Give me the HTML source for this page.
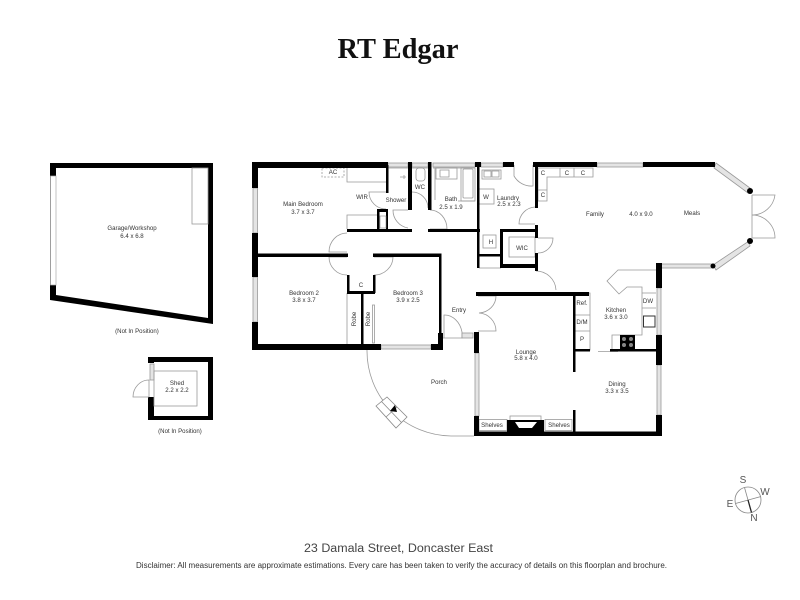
<!DOCTYPE html>
<html><head><meta charset="utf-8"><style>
html,body{margin:0;padding:0;background:#fff}
svg{display:block}
text{font-family:"Liberation Sans",sans-serif;fill:#333;text-anchor:middle;font-size:6.1px}
.g{fill:none;stroke:#999;stroke-width:.8}
.w{fill:#fff;stroke:#888;stroke-width:.8}
.win{fill:#e4e4e4;stroke:#999;stroke-width:.8}
</style></head><body>
<svg width="800" height="600" viewBox="0 0 800 600" xmlns="http://www.w3.org/2000/svg">
<text x="398" y="58" textLength="121" lengthAdjust="spacingAndGlyphs" style="font-family:'Liberation Serif',serif;font-weight:bold;font-size:29px;fill:#111">RT Edgar</text>

<!-- Garage -->
<path fill-rule="evenodd" d="M50 163H213V324L50 300ZM56 168V295L208 318V168Z" fill="#000"/>
<rect x="50.5" y="176" width="5.5" height="109" fill="#fff" stroke="#aaa" stroke-width=".7"/>
<rect x="192" y="168" width="16" height="56" class="g"/>
<text x="132" y="230">Garage/Workshop</text><text x="132" y="238">6.4 x 6.8</text>
<text x="137" y="333">(Not In Position)</text>

<!-- Shed -->
<path fill-rule="evenodd" d="M148 357H213V420H148ZM154 362V416H208V362Z" fill="#000"/>
<rect x="148" y="363" width="6.5" height="34" fill="#fff"/>
<rect x="150" y="364" width="4" height="16" class="win"/>
<rect x="154" y="371" width="43" height="35" class="g"/>
<path d="M149 397H133A16 17 0 0 1 149 380V397" class="g"/>
<text x="177" y="385">Shed</text><text x="177" y="392">2.2 x 2.2</text>
<text x="180" y="433">(Not In Position)</text>

<!-- Fixtures and doors -->
<g class="g">
<rect x="322" y="168" width="22" height="9" stroke-dasharray="2 1.5"/>
<path d="M347 168V182H386"/><path d="M347 229V215H377"/>
<path d="M386 192H369A17 17 0 0 0 386 209"/>
<path d="M408 210H393A18 18 0 0 0 408 228"/>
<path d="M412 192A16 16 0 0 1 428 208"/>
<path d="M430 210A17 19 0 0 1 447 229H430"/>
<path d="M347 233A18 19 0 0 0 329 252H347"/>
<path d="M329 257H347M329 257A18 18 0 0 0 347 275"/>
<path d="M374 257H393A19 18 0 0 1 374 275"/>
<path d="M347 293V345"/>
<rect x="372.5" y="305" width="2" height="38"/>
<path d="M388 168H408M412 168H428M433 168H475M435 168V200"/>
<path d="M400 177H406M404 175V179"/>
<rect x="416" y="168" width="9" height="13" rx="3"/>
<rect x="436" y="168" width="21" height="11"/>
<rect x="440" y="170" width="9" height="7"/>
<rect x="461" y="168" width="14" height="33"/>
<rect x="463" y="169" width="10" height="29" rx="1"/>
<path d="M458 201H475"/>
<rect x="479" y="189" width="15" height="15"/>
<rect x="483" y="235" width="13" height="13"/>
<path d="M479 268H501"/>
<rect x="482" y="170" width="19" height="9"/>
<rect x="484" y="171" width="7" height="6"/><rect x="492" y="171" width="7" height="6"/>
<path d="M514 165V176A20 20 0 0 0 533 186V165"/>
<path d="M538 168H593V177H547V201H538ZM560 168V177M574 168V177M538 190H547"/>
<path d="M535 207A17 17 0 0 0 519 224H535"/>
<rect x="509" y="237" width="26" height="20"/>
<path d="M538 238H553A15 15 0 0 1 538 253"/>
<path d="M536 271A20 20 0 0 1 556 290"/>
<path d="M656 270H618L607 281L619 294L627 287H642V335H612V349"/>
<path d="M642 293H656M642 308H656"/>
<path d="M598 351.5H618"/>
<path d="M575 293H590V350H575M575 315H590M575 331H590"/>
<path d="M444 338V315A18 22 0 0 1 462 332V338H441"/>
<path d="M367 350A85 85 0 0 0 451 436H474"/>
<path d="M478 296H496A18 17 0 0 1 479 313A18 18 0 0 1 496 331H478"/>
<path d="M752 195V238M752 195H775A23 23 0 0 1 752 215A23 23 0 0 1 775 238H752"/>
<rect x="479" y="419.5" width="28" height="11" />
<rect x="545" y="419.5" width="27" height="11"/>
<rect x="510" y="416" width="31" height="5"/>
</g>
<path class="w" d="M376 406L387 397L407 417L396 428ZM381.500 401.500L401.500 422.500M386 417L397 407"/>
<path d="M390 411L395 405L397 412Z" fill="#000"/>

<!-- Windows -->
<g class="win">
<rect x="253" y="188" width="4.500" height="45"/><rect x="253" y="277" width="4.500" height="45"/>
<rect x="381" y="345" width="50" height="4"/>
<rect x="388" y="163" width="20" height="4"/><rect x="412" y="163" width="16" height="4"/><rect x="433" y="163" width="42" height="4"/><rect x="481" y="163" width="22" height="4"/>
<rect x="597" y="163" width="46" height="4"/>
<polygon points="716,163 750,188 748,193 714,168"/>
<polygon points="749,241 750,246 716,270 713,265"/>
<rect x="660" y="264" width="53" height="4"/>
<rect x="657" y="288" width="4" height="47"/><rect x="657" y="365" width="4" height="50"/>
<rect x="475" y="353" width="4" height="63"/>
<rect x="462" y="333" width="11" height="5"/>
</g>

<!-- Walls -->
<g fill="#000">
<rect x="252" y="162" width="136" height="6"/>
<rect x="252" y="162" width="6" height="26"/><rect x="252" y="233" width="6" height="44"/><rect x="252" y="322" width="6" height="28"/>
<rect x="252" y="344" width="129" height="6"/><rect x="431" y="344" width="12" height="6"/><rect x="438" y="333" width="5" height="17"/>
<rect x="258" y="253.500" width="90" height="3.500"/>
<rect x="373" y="253.500" width="68" height="3.500"/>
<rect x="439" y="253.500" width="2.500" height="82"/>
<rect x="347" y="229" width="65" height="3"/><rect x="428" y="229" width="52" height="3"/>
<rect x="386" y="165" width="2.500" height="28"/>
<rect x="377" y="209" width="11" height="3"/><rect x="377" y="209" width="2.500" height="20"/><rect x="386" y="209" width="2" height="20"/>
<rect x="408" y="162" width="4" height="48"/><rect x="428" y="162" width="3.500" height="48"/>
<rect x="347" y="275" width="2.500" height="18"/><rect x="373" y="275" width="2.500" height="18"/><rect x="347" y="291" width="28" height="3"/>
<rect x="361" y="293" width="2.500" height="52"/>
<rect x="475" y="162" width="6" height="5"/><rect x="477" y="165" width="2.500" height="103"/>
<rect x="503" y="162" width="11" height="5"/><rect x="533" y="162" width="64" height="5"/><rect x="643" y="162" width="72" height="5"/>
<rect x="535" y="165" width="3" height="43"/><rect x="535" y="225" width="3" height="13"/><rect x="535" y="253" width="3" height="18"/>
<rect x="500" y="229" width="38" height="3"/><rect x="500" y="229" width="3" height="39"/><rect x="501" y="264" width="37" height="4"/><rect x="478" y="254" width="23" height="2.500"/>
<rect x="476" y="292" width="113" height="4"/><rect x="476" y="292" width="2.500" height="4"/>
<rect x="474" y="332" width="5" height="21"/><rect x="474" y="416" width="5" height="20"/>
<rect x="474" y="431.500" width="188" height="4.500"/>
<rect x="573" y="292" width="2.500" height="80"/><rect x="573" y="410" width="2.500" height="22"/>
<rect x="575" y="349" width="15" height="2.500"/><rect x="610" y="349" width="48" height="2.500"/>
<rect x="656" y="263" width="6" height="25"/><rect x="656" y="335" width="6" height="30"/><rect x="656" y="415" width="6" height="21"/>
<rect x="507" y="420" width="37" height="16"/>
<circle cx="750" cy="191" r="3"/><circle cx="750" cy="241" r="3"/><circle cx="713" cy="266" r="2.500"/>
<rect x="620" y="335" width="15" height="14"/>
</g>
<path d="M515 422H537L532 428H519Z" fill="#fff"/>
<g fill="#888"><circle cx="624" cy="339" r="2"/><circle cx="631" cy="339" r="2"/><circle cx="624" cy="345" r="2"/><circle cx="631" cy="345" r="2"/></g>
<rect x="643.500" y="316" width="11.500" height="11" fill="#fff" stroke="#333" stroke-width="1"/>
<rect x="380" y="216" width="6" height="12" fill="#fff" stroke="#888" stroke-width=".6"/>

<!-- Labels -->
<text x="303" y="206">Main Bedroom</text><text x="303" y="214">3.7 x 3.7</text>
<text x="333" y="174">AC</text><text x="362" y="199">WIR</text><text x="396" y="202">Shower</text><text x="420" y="189">WC</text>
<text x="451" y="201">Bath</text><text x="451" y="209">2.5 x 1.9</text>
<text x="486" y="199">W</text><text x="508" y="200">Laundry</text><text x="509" y="206">2.5 x 2.3</text>
<text x="491" y="244">H</text><text x="522" y="250">WIC</text>
<text x="543" y="175">C</text><text x="567" y="175">C</text><text x="583" y="175">C</text><text x="543" y="197">C</text>
<text x="595" y="216">Family</text><text x="641" y="216">4.0 x 9.0</text><text x="692" y="215">Meals</text>
<text x="304" y="295">Bedroom 2</text><text x="304" y="302">3.8 x 3.7</text>
<text x="361" y="287">C</text>
<text x="408" y="295">Bedroom 3</text><text x="408" y="302">3.9 x 2.5</text>
<text transform="translate(356 319) rotate(-90)">Robe</text><text transform="translate(370 319) rotate(-90)">Robe</text>
<text x="459" y="312">Entry</text>
<text x="582" y="305">Ref.</text><text x="582" y="324">D/M</text><text x="582" y="341">P</text><text x="648" y="303">DW</text>
<text x="616" y="312">Kitchen</text><text x="616" y="319">3.6 x 3.0</text>
<text x="526" y="354">Lounge</text><text x="526" y="360">5.8 x 4.0</text>
<text x="439" y="384">Porch</text>
<text x="617" y="386">Dining</text><text x="617" y="393">3.3 x 3.5</text>
<text x="492" y="427">Shelves</text><text x="559" y="427">Shelves</text>

<!-- Compass -->
<g fill="none" stroke="#888" stroke-width=".8"><circle cx="748" cy="500" r="13"/><path d="M744.500 487.500L748 500M735.500 503.500L761 496.500"/></g>
<path d="M748 500L751.500 512.500" stroke="#222" stroke-width="1.300"/>
<g><text x="743" y="483" style="font-size:10px;fill:#555">S</text><text x="765" y="495" style="font-size:10px;fill:#555">W</text><text x="730" y="507" style="font-size:10px;fill:#555">E</text><text x="754" y="521" style="font-size:10px;fill:#555">N</text></g>

<text x="398.500" y="552" textLength="189" lengthAdjust="spacingAndGlyphs" style="font-size:11.500px;fill:#444">23 Damala Street, Doncaster East</text>
<text x="401.500" y="568" textLength="531" lengthAdjust="spacingAndGlyphs" style="font-size:7.800px;fill:#333">Disclaimer: All measurements are approximate estimations. Every care has been taken to verify the accuracy of details on this floorplan and brochure.</text>
</svg>
</body></html>
